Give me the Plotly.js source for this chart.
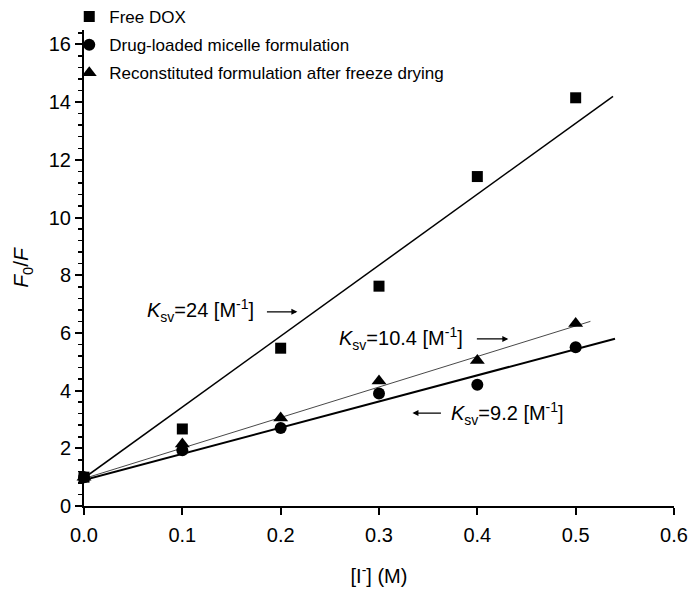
<!DOCTYPE html>
<html>
<head>
<meta charset="utf-8">
<script src="https://cdn.plot.ly/plotly-3.0.1.min.js"></script>
<style>
  html, body { margin: 0; padding: 0; background: #fff; }
  #chart { width: 690px; height: 600px; }
</style>
</head>
<body>
<div id="chart"></div>
<script>
// Stern-Volmer quenching data
const iodide = [0, 0.1, 0.2, 0.3, 0.4, 0.5];
const freeDox = [1.0, 2.67, 5.47, 7.62, 11.42, 14.15];
const micelle = [1.0, 1.93, 2.70, 3.90, 4.20, 5.50];
const reconstituted = [1.0, 2.15, 3.05, 4.33, 5.04, 6.33];

// fitted lines (end points)
const fitDoxX = [0, 0.538];
const fitDoxY = [0.97, 14.2];
const fitRecX = [0, 0.515];
const fitRecY = [0.95, 6.4];
const fitMicX = [0, 0.54];
const fitMicY = [0.9, 5.8];

const seriesNames = [
    'Free DOX',
    'Drug-loaded micelle formulation',
    'Reconstituted formulation after freeze drying'
];

const FONT = '"Liberation Sans", Arial, sans-serif';

function pointTrace(y, name, symbol, size) {
    return {
        x: iodide, y: y, name: name, legendgroup: name,
        type: 'scatter', mode: 'markers',
        cliponaxis: false,
        marker: { symbol: symbol, size: size, color: '#000' }
    };
}

function fitTrace(x, y, width, color) {
    return {
        x: x, y: y, type: 'scatter', mode: 'lines',
        showlegend: false, hoverinfo: 'skip',
        line: { color: color, width: width }
    };
}

const data = [
    fitTrace(fitDoxX, fitDoxY, 1.5, '#000'),
    fitTrace(fitRecX, fitRecY, 0.9, '#333'),
    fitTrace(fitMicX, fitMicY, 2, '#000'),
    pointTrace(freeDox, seriesNames[0], 'square', 11),
    pointTrace(micelle, seriesNames[1], 'circle', 12),
    pointTrace(reconstituted, seriesNames[2], 'triangle-up', 13)
];

// label + separate short arrow, as in the original
function label(x, y, text) {
    return { x: x, y: y, xref: 'x', yref: 'y', text: text, showarrow: false,
             font: { family: FONT, size: 20, color: '#000' } };
}
function arrow(xTail, xHead, y) {
    return { x: xHead, y: y, ax: xTail, ay: y, axref: 'x', ayref: 'y',
             xref: 'x', yref: 'y', text: '', showarrow: true,
             arrowhead: 2, arrowsize: 1, arrowwidth: 1.2, arrowcolor: '#000' };
}

const layout = {
    width: 690, height: 600,
    margin: { l: 84, r: 16, t: 30, b: 94, autoexpand: false },
    paper_bgcolor: '#fff', plot_bgcolor: '#fff',
    font: { family: FONT, size: 19, color: '#000' },
    showlegend: true,
    legend: {
        x: -0.025, y: 1.065, xanchor: 'left', yanchor: 'top',
        bgcolor: 'rgba(0,0,0,0)',
        font: { family: FONT, size: 17 },
        tracegroupgap: 3,
        itemwidth: 30
    },
    xaxis: {
        range: [0, 0.6], dtick: 0.1, tickformat: '.1f',
        showgrid: false, zeroline: false,
        showline: true, linecolor: '#000', linewidth: 2,
        ticks: 'outside', ticklen: 7, tickwidth: 2, tickcolor: '#000',
        ticklabelstandoff: 3,
        tickfont: { family: FONT, size: 20 },
        title: { text: '[I<sup>-</sup>] (M)', font: { family: FONT, size: 20 }, standoff: 24 }
    },
    yaxis: {
        range: [0, 16.5], dtick: 2, tick0: 0,
        showgrid: false, zeroline: false,
        showline: true, linecolor: '#000', linewidth: 2,
        ticks: 'outside', ticklen: 7, tickwidth: 2, tickcolor: '#000',
        minor: { dtick: 0.4, ticks: 'outside', ticklen: 4, tickwidth: 1.5, tickcolor: '#000', showgrid: false },
        tickfont: { family: FONT, size: 20 },
        title: { text: '<i>F</i><sub>0</sub>/<i>F</i>', font: { family: FONT, size: 21 }, standoff: 14 }
    },
    annotations: [
        label(0.118, 6.76, '<i>K</i><sub>sv</sub>=24 [M<sup>-1</sup>]'),
        arrow(0.1845, 0.217, 6.73),
        label(0.322, 5.79, '<i>K</i><sub>sv</sub>=10.4 [M<sup>-1</sup>]'),
        arrow(0.398, 0.4315, 5.79),
        arrow(0.3645, 0.334, 3.22),
        label(0.4305, 3.19, '<i>K</i><sub>sv</sub>=9.2 [M<sup>-1</sup>]')
    ]
};

Plotly.newPlot('chart', data, layout, { displayModeBar: false, staticPlot: true });
</script>
</body>
</html>
